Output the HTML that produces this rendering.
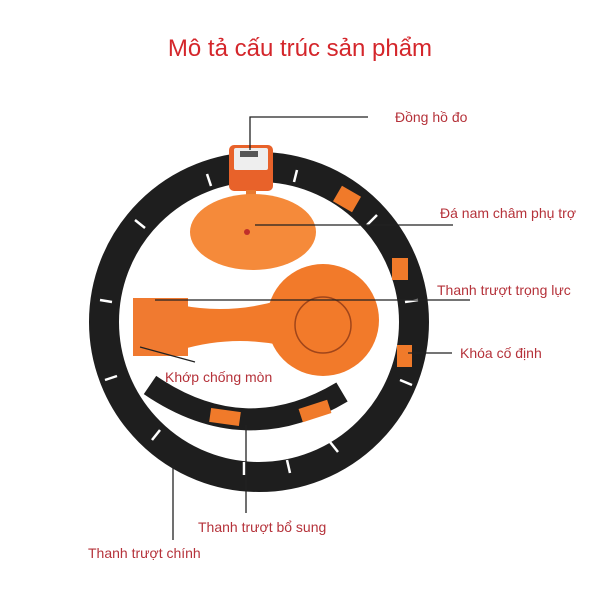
<!DOCTYPE html>
<html><head><meta charset="utf-8"><style>
html,body{margin:0;padding:0;background:#fff;width:600px;height:600px;overflow:hidden}
svg text{font-family:"Liberation Sans",sans-serif}
</style></head><body>
<svg width="600" height="600" viewBox="0 0 600 600" xmlns="http://www.w3.org/2000/svg">
<text x="300" y="56" text-anchor="middle" font-size="24" fill="#d4262b">Mô tả cấu trúc sản phẩm</text>
<circle cx="259" cy="322" r="155" fill="none" stroke="#1e1e1e" stroke-width="30"/>
<g stroke="#fff" stroke-width="2.5">
<line x1="207" y1="174" x2="211" y2="186"/><line x1="297" y1="170" x2="294" y2="182"/>
<line x1="135" y1="220" x2="145" y2="228"/><line x1="377" y1="215" x2="367" y2="225"/>
<line x1="100" y1="300" x2="112" y2="302"/><line x1="418" y1="300" x2="405" y2="302"/>
<line x1="105" y1="380" x2="117" y2="376"/><line x1="412" y1="385" x2="400" y2="380"/>
<line x1="152" y1="440" x2="160" y2="430"/><line x1="338" y1="452" x2="330" y2="442"/>
<line x1="244" y1="475" x2="244" y2="462"/><line x1="290" y1="473" x2="287" y2="460"/>
</g>
<rect x="336" y="190" width="22" height="18" fill="#f07a2a" transform="rotate(30 347 199)"/>
<rect x="392" y="258" width="16" height="22" fill="#f07a2a"/>
<rect x="397" y="345" width="15" height="22" fill="#f07a2a"/>
<rect x="229" y="145" width="44" height="46" rx="5" fill="#e8622a"/>
<rect x="234" y="148" width="34" height="22" rx="2" fill="#eee"/>
<rect x="240" y="151" width="18" height="6" fill="#555"/>
<rect x="246" y="190" width="10" height="14" fill="#e87a30"/>
<ellipse cx="253" cy="232" rx="63" ry="38" fill="#f58a3a"/>
<circle cx="247" cy="232" r="3" fill="#c0302a"/>
<rect x="133" y="298" width="55" height="58" fill="#f07a30"/>
<path d="M180 305 Q230 315 280 300 L280 345 Q230 335 180 350 Z" fill="#f27a2a"/>
<circle cx="323" cy="320" r="56" fill="#f27a2a"/>
<circle cx="323" cy="325" r="28" fill="none" stroke="#a0451a" stroke-width="1.5"/>
<path d="M150 385 Q245 450 342 392" fill="none" stroke="#1e1e1e" stroke-width="22"/>
<rect x="210" y="410" width="30" height="14" fill="#f07a2a" transform="rotate(8 225 417)"/>
<rect x="300" y="404" width="30" height="14" fill="#f07a2a" transform="rotate(-18 315 411)"/>
<g stroke="#222" stroke-width="1.3" fill="none">
<polyline points="250,150 250,117 368,117"/>
<line x1="255" y1="225" x2="453" y2="225"/>
<line x1="155" y1="300" x2="470" y2="300"/>
<line x1="408" y1="353" x2="452" y2="353"/>
<line x1="140" y1="347" x2="195" y2="362"/>
<line x1="246" y1="425" x2="246" y2="513"/>
<line x1="173" y1="465" x2="173" y2="540"/>
</g>
<g font-size="14" fill="#b5323a">
<text x="395" y="122">Đồng hồ đo</text>
<text x="440" y="218">Đá nam châm phụ trợ</text>
<text x="437" y="295">Thanh trượt trọng lực</text>
<text x="460" y="358">Khóa cố định</text>
<text x="165" y="382">Khớp chống mòn</text>
<text x="198" y="532">Thanh trượt bổ sung</text>
<text x="88" y="558">Thanh trượt chính</text>
</g>
</svg>
</body></html>
